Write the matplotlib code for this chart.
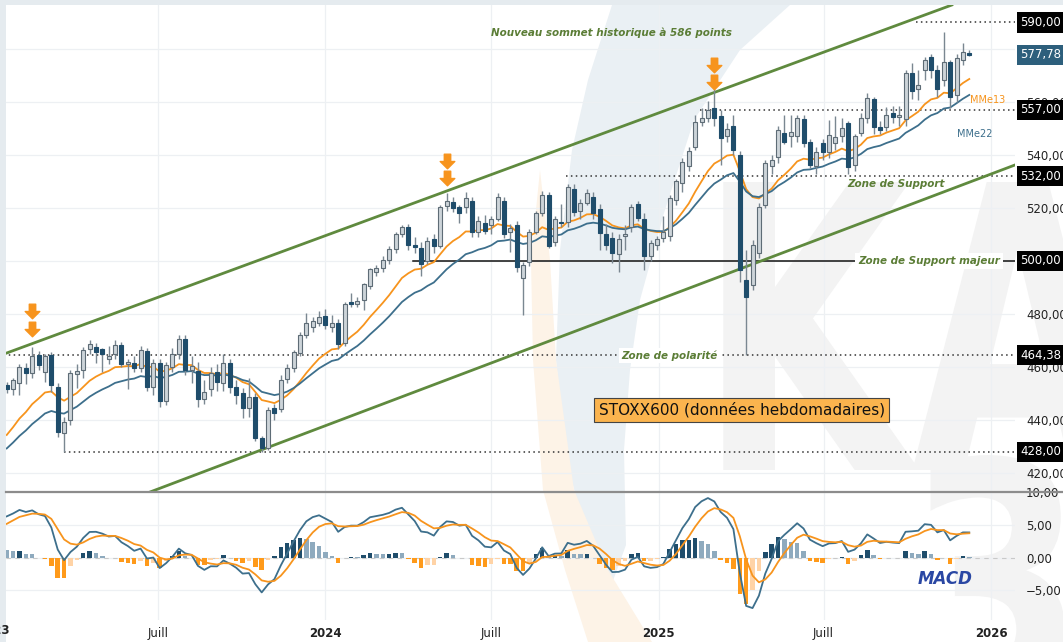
import numpy as np
import pandas as pd
import matplotlib
matplotlib.use("Agg")
import matplotlib.pyplot as plt
import matplotlib.dates as mdates
import matplotlib.transforms as mtransforms
from matplotlib.path import Path
from matplotlib.lines import Line2D
from matplotlib.patches import Rectangle, Polygon, PathPatch
from matplotlib.textpath import TextPath
from matplotlib.font_manager import FontProperties

# ---------------- data (weekly STOXX 600) ----------------
week_start = "2023-01-16"
opens = [453.0, 451.5, 454.0, 459.5, 457.6, 464.5, 458.0, 464.5, 452.5, 435.0,
         440.0, 457.3, 458.8, 466.6, 467.6, 466.6, 462.9, 465.0, 468.3, 461.1,
         461.5, 459.5, 466.0, 452.5, 461.3, 447.0, 460.0, 464.7, 470.4, 459.0,
         458.5, 448.0, 451.5, 458.2, 454.0, 461.3, 452.3, 450.3, 444.4, 448.5,
         433.0, 429.3, 444.4, 444.0, 455.5, 459.5, 465.2, 472.1, 475.2, 476.7,
         479.3, 475.2, 476.7, 469.0, 484.5, 483.6, 485.3, 490.6, 496.0, 497.3,
         500.5, 504.5, 510.0, 513.0, 506.0, 505.0, 500.0, 508.3, 505.6, 520.7,
         522.4, 520.2, 520.2, 522.5, 511.0, 514.4, 513.5, 516.0, 522.8, 511.0,
         513.6, 493.4, 499.5, 511.0, 518.2, 524.9, 507.3, 514.8, 514.8, 527.0,
         519.0, 522.0, 524.0, 519.5, 510.0, 508.8, 502.5, 509.5, 513.0, 521.5,
         516.0, 502.0, 506.0, 508.6, 509.5, 523.0, 529.5, 536.0, 543.1, 552.6,
         553.8, 557.6, 554.7, 547.0, 550.9, 540.0, 493.0, 491.0, 503.0, 521.0,
         535.8, 539.4, 548.2, 547.2, 547.0, 553.5, 545.0, 536.0, 544.7, 541.3,
         544.4, 547.0, 552.0, 536.2, 548.2, 553.8, 561.0, 550.7, 550.7, 556.0,
         554.5, 553.5, 570.8, 564.8, 572.0, 576.9, 572.0, 568.3, 575.2, 562.6,
         576.0, 578.6]
highs = [454.5, 456.0, 461.0, 461.5, 467.6, 466.0, 465.0, 465.5, 454.0, 441.0,
         459.0, 461.0, 467.5, 470.0, 469.0, 467.0, 468.0, 470.2, 469.5, 463.0,
         464.0, 468.0, 467.0, 463.0, 463.0, 462.0, 467.0, 472.0, 472.0, 464.0,
         462.0, 455.0, 460.0, 461.0, 465.0, 463.0, 455.0, 452.0, 456.0, 450.0,
         434.0, 445.0, 446.0, 457.0, 461.0, 466.5, 473.0, 480.3, 479.0, 481.0,
         482.0, 479.5, 478.0, 484.5, 487.8, 486.5, 491.8, 497.5, 498.5, 502.0,
         505.5, 511.0, 513.5, 514.0, 509.0, 507.0, 509.0, 510.0, 521.0, 525.5,
         524.0, 521.0, 526.0, 524.0, 517.0, 517.5, 517.0, 525.5, 524.0, 514.0,
         515.0, 499.5, 512.0, 519.0, 526.5, 526.0, 517.0, 521.5, 529.0, 529.0,
         523.5, 527.0, 526.0, 521.5, 514.0, 511.0, 510.0, 513.6, 521.5, 522.7,
         518.0, 508.0, 509.5, 517.0, 525.0, 531.0, 539.0, 543.0, 555.0, 557.6,
         560.5, 565.3, 557.0, 552.0, 555.0, 541.5, 504.2, 508.0, 522.0, 538.0,
         540.0, 551.0, 555.0, 555.0, 555.0, 555.0, 546.0, 543.0, 546.0, 553.2,
         554.7, 554.0, 553.0, 548.0, 556.0, 563.3, 562.0, 553.0, 558.2, 558.5,
         558.5, 572.0, 574.6, 572.0, 577.0, 578.0, 574.0, 586.5, 576.0, 578.0,
         582.1, 579.5]
lows = [450.0, 449.4, 449.5, 453.5, 456.0, 459.0, 454.5, 450.6, 433.7, 428.0,
        438.0, 452.0, 456.0, 465.0, 461.3, 458.2, 461.0, 463.0, 460.0, 451.5,
        458.0, 458.0, 451.0, 449.4, 444.7, 445.6, 458.0, 463.0, 457.0, 454.0,
        445.0, 446.0, 449.0, 451.0, 451.0, 450.0, 446.0, 440.6, 441.0, 432.0,
        428.0, 428.5, 440.0, 443.0, 454.0, 458.0, 464.0, 471.0, 473.0, 475.5,
        474.5, 473.0, 466.7, 468.0, 482.5, 482.5, 481.5, 489.5, 494.5, 496.0,
        499.0, 503.0, 509.0, 504.0, 503.0, 494.5, 499.0, 503.0, 505.0, 519.0,
        518.6, 514.2, 518.0, 509.0, 509.0, 510.0, 510.0, 515.0, 508.5, 503.5,
        496.0, 479.6, 498.0, 510.0, 517.0, 505.0, 505.5, 513.0, 513.0, 517.0,
        516.0, 521.0, 516.0, 504.2, 504.0, 499.1, 496.0, 504.0, 511.0, 515.0,
        496.6, 500.0, 504.0, 507.0, 507.5, 521.0, 526.0, 534.0, 542.0, 551.0,
        552.5, 551.0, 536.2, 545.0, 540.0, 492.2, 464.4, 489.0, 501.0, 520.0,
        533.0, 537.0, 544.0, 543.0, 545.0, 543.0, 535.0, 533.0, 538.0, 539.0,
        542.0, 545.0, 533.0, 534.0, 547.0, 552.0, 548.0, 548.0, 549.0, 552.0,
        551.0, 551.0, 561.0, 560.8, 568.3, 569.0, 562.0, 566.0, 557.6, 560.0,
        574.0, 577.5]
closes = [451.5, 455.0, 460.0, 457.6, 464.0, 460.7, 464.0, 453.2, 435.6, 439.3,
          457.6, 458.6, 466.4, 468.6, 465.8, 464.9, 464.1, 468.3, 461.1, 462.0,
          459.5, 466.4, 452.5, 461.3, 447.1, 460.7, 465.0, 470.4, 458.8, 460.5,
          448.0, 450.7, 457.6, 454.2, 461.3, 452.5, 449.4, 444.4, 448.5, 433.0,
          429.3, 443.7, 442.7, 455.0, 459.5, 465.8, 472.1, 476.5, 477.4, 479.0,
          475.9, 476.5, 468.7, 483.8, 483.9, 484.7, 491.3, 496.9, 497.2, 500.4,
          504.5, 510.0, 512.8, 506.0, 505.1, 499.0, 507.5, 505.5, 520.5, 522.8,
          520.0, 518.0, 523.8, 511.0, 515.0, 511.4, 516.0, 524.0, 510.0, 512.3,
          497.6, 498.5, 511.0, 518.2, 524.9, 505.8, 515.7, 514.3, 528.0, 518.4,
          522.0, 525.5, 518.2, 510.7, 506.0, 503.0, 508.2, 510.0, 520.3, 516.2,
          502.0, 506.7, 508.2, 511.0, 523.7, 530.0, 537.5, 541.5, 552.6, 553.8,
          557.0, 553.8, 546.3, 549.7, 542.0, 496.6, 486.5, 506.0, 520.5, 537.0,
          538.1, 549.4, 545.0, 548.8, 553.8, 544.7, 536.2, 541.3, 541.0, 547.5,
          546.7, 550.0, 535.6, 547.0, 553.8, 561.4, 550.7, 549.3, 555.1, 554.2,
          555.0, 570.8, 564.3, 566.4, 575.9, 572.1, 565.0, 575.2, 562.0, 576.5,
          579.0, 577.78]
# weekly closes before the visible window (used only to seed the averages / MACD)
warmup_closes = [429, 443, 442, 428, 395, 404, 403, 413, 405, 419, 438, 437, 442,
                 439, 425, 409, 419, 409, 392, 388, 390, 392, 399, 412, 412, 433,
                 434, 441, 443, 437, 428, 429, 425, 444, 453]

ema_fast_span, ema_slow_span = 13, 22
macd_spans = (6, 11, 5)

x_tick_dates = ["2023-07-01", "2024-01-01", "2024-07-01", "2025-01-01", "2025-07-01", "2026-01-01"]
x_tick_labels = ["Juill", "2024", "Juill", "2025", "Juill", "2026"]
price_ticks = [420, 440, 460, 480, 500, 520, 540, 560, 580]
macd_ticks = [-5, 0, 5, 10]

# marked levels: (price, start date, style)
levels = [(590.0, "2025-10-11", "dot"), (557.0, "2025-02-15", "dot"),
          (532.0, "2024-09-21", "dot"), (500.0, "2024-04-06", "solid"),
          (464.38, "2023-01-01", "dot"), (428.0, "2023-03-20", "dot")]
box_levels = [(590.0, "590,00"), (577.78, "577,78"), (557.0, "557,00"), (532.0, "532,00"),
              (500.0, "500,00"), (464.38, "464,38"), (428.0, "428,00")]
# channel anchors (date, price)
upper_channel = [("2023-01-10", 464.5), ("2025-11-22", 597.0)]
lower_channel = [("2023-06-17", 412.1), ("2026-01-27", 536.2)]
# arrows marking touches of the upper channel (week index, price of lower arrow)
arrow_weeks = [4, 69, 111]
arrow_prices = [474.5, 531.3, 567.5]

# ---------------- computations ----------------
dates = pd.date_range(week_start, periods=len(closes), freq="7D")
xd = mdates.date2num(dates.to_pydatetime())
o = np.array(opens); h = np.array(highs); l = np.array(lows); c = np.array(closes)
allc = pd.Series(list(map(float, warmup_closes)) + closes)
nw = len(warmup_closes)
ema13 = allc.ewm(span=ema_fast_span, adjust=False).mean().values[nw:]
ema22 = allc.ewm(span=ema_slow_span, adjust=False).mean().values[nw:]
e_f = allc.ewm(span=macd_spans[0], adjust=False).mean()
e_s = allc.ewm(span=macd_spans[1], adjust=False).mean()
macd_all = e_f - e_s
sig_all = macd_all.ewm(span=macd_spans[2], adjust=False).mean()
hist_all = (macd_all - sig_all).values
macd = macd_all.values[nw:]
sig = sig_all.values[nw:]
hist = hist_all[nw:]
hist_prev = hist_all[nw - 1:-1]

# ---------------- figure ----------------
W, H = 1063, 642
fig = plt.figure(figsize=(W / 100, H / 100), dpi=100, facecolor="white")
fig.patches.append(Rectangle((0, 1 - 5 / H), 1, 5 / H, transform=fig.transFigure,
                             fc="#e5ebef", ec="none", zorder=-5))
fig.patches.append(Rectangle((0, 0), 6 / W, 1, transform=fig.transFigure,
                             fc="#e5ebef", ec="none", zorder=-5))

# background watermark (pixel coordinates, y from top)
def px(points):
    return [(x / W, 1 - y / H) for x, y in points]
blue_swoosh = [(612, 5), (588, 80), (572, 150), (560, 250), (556, 360), (566, 460),
               (588, 540), (606, 600), (626, 545), (624, 450), (630, 370), (640, 300),
               (664, 213), (694, 120), (740, 50), (790, 5)]
orange_swoosh = [(540, 170), (531, 260), (533, 360), (543, 490), (565, 570), (588, 642),
                 (652, 642), (608, 570), (574, 490), (556, 360), (550, 260)]
fig.patches.append(Polygon(px(blue_swoosh), closed=True, transform=fig.transFigure,
                           fc="#eaf0f4", ec="none", zorder=-4))
fig.patches.append(Polygon(px(orange_swoosh), closed=True, transform=fig.transFigure,
                           fc="#fdf3e7", ec="none", zorder=-4))
tp = TextPath((0, 0), "KA", size=1, prop=FontProperties(family="DejaVu Sans", weight="bold"))
fig.add_artist(PathPatch(tp, fc="#f3f3f3", ec="none", zorder=-3,
                         transform=mtransforms.Affine2D().scale(275, 395).translate(698, H - 470)))
tp3 = TextPath((0, 0), "3", size=1, prop=FontProperties(family="DejaVu Sans", weight="bold"))
fig.add_artist(PathPatch(tp3, fc="#f3f3f3", ec="none", zorder=-3,
                         transform=mtransforms.Affine2D().scale(260, 330).translate(905, H - 700)))

L, R = 6, 1015
ax = fig.add_axes([L / W, (H - 492) / H, (R - L) / W, (492 - 5) / H])
ax2 = fig.add_axes([L / W, (H - 620) / H, (R - L) / W, (620 - 492) / H], sharex=ax)
for a in (ax, ax2):
    a.set_facecolor("none")
    for s in a.spines.values():
        s.set_visible(False)

xmin = mdates.date2num(pd.Timestamp("2023-01-15 05:00"))
xmax = mdates.date2num(pd.Timestamp("2026-01-27 05:00"))
ax.set_xlim(xmin, xmax)
ax.set_ylim(412.8, 596.6)
ax2.set_ylim(-9.5, 9.85)

def dnum(s):
    return mdates.date2num(pd.Timestamp(s))

# grid
tick_x = mdates.date2num([pd.Timestamp(d) for d in x_tick_dates])
for a in (ax, ax2):
    for t in tick_x:
        a.axvline(t, color="#edf0f3", lw=0.9, zorder=0.5)
for p in price_ticks:
    ax.axhline(p, color="#edf0f3", lw=0.9, zorder=0.5)
for p in macd_ticks:
    ax2.axhline(p, color="#edf0f3", lw=0.9, zorder=0.5)

# channel
green = "#5f8a3e"
for anchors in (upper_channel, lower_channel):
    (d1, p1), (d2, p2) = anchors
    ax.axline((dnum(d1), p1), (dnum(d2), p2), color=green, lw=2.0, zorder=2)

# levels
for price, start, style in levels:
    x0 = dnum(start)
    if style == "dot":
        ax.plot([x0, xmax], [price, price], color="#333333", lw=1.1, ls=(0, (1, 2.2)), zorder=1.5)
    else:
        ax.plot([x0, xmax], [price, price], color="#111111", lw=1.1, zorder=1.5)

# EMAs
ax.plot(xd, ema13, color="#f7941d", lw=1.3, zorder=3)
ax.plot(xd, ema22, color="#3d6f8c", lw=1.3, zorder=3)

# candles
up = c >= o
body_w = 4.4
ax.vlines(xd, l, h, color="#7a8791", lw=1.0, zorder=4)
bot = np.minimum(o, c)
hgt = np.maximum(np.abs(c - o), 0.35)
ax.bar(xd[up], hgt[up], bottom=bot[up], width=body_w, color="#cdd4d9", edgecolor="#5e6c76",
       linewidth=0.8, zorder=5)
ax.bar(xd[~up], hgt[~up], bottom=bot[~up], width=body_w, color="#1f4d6b", edgecolor="#1f4d6b",
       linewidth=0.8, zorder=5)

# arrows
arrow_path = Path([(-0.22, 0.5), (0.22, 0.5), (0.22, 0.0), (0.5, 0.0), (0.0, -0.5),
                   (-0.5, 0.0), (-0.22, 0.0), (-0.22, 0.5)],
                  [Path.MOVETO] + [Path.LINETO] * 6 + [Path.CLOSEPOLY])
ax_arrow_x = xd[arrow_weeks]
ax.plot(ax_arrow_x, arrow_prices, marker=arrow_path, markersize=10.5, color="#f7941d",
        ls="none", zorder=7)
ax.plot(ax_arrow_x, np.array(arrow_prices) + 6.6, marker=arrow_path, markersize=10.5,
        color="#f7941d", ls="none", zorder=7)

# annotations
ann = dict(color="#5b7d36", style="italic", fontweight="bold", fontsize=7.5, zorder=8)
ax.text(dnum("2024-11-10"), 586.0, "Nouveau sommet historique à 586 points", ha="center", va="center", **ann)
ax.text(dnum("2025-09-19"), 529.0, "Zone de Support", ha="center", va="center", **ann)
ax.text(dnum("2025-10-25"), 500.0, "Zone de Support majeur", ha="center", va="center",
        bbox=dict(boxstyle="square,pad=0.3", fc="white", ec="none"), **ann)
ax.text(dnum("2025-01-13"), 464.3, "Zone de polarité", ha="center", va="center",
        bbox=dict(boxstyle="square,pad=0.2", fc="white", ec="none"), **ann)
ax.text(dnum("2025-12-09"), 560.8, "MMe13", color="#f7941d", fontsize=7, ha="left", va="center", zorder=8)
ax.text(dnum("2025-11-25"), 548.0, "MMe22", color="#3d6f8c", fontsize=7, ha="left", va="center", zorder=8)
ax.text(dnum("2025-04-02"), 443.8, "STOXX600 (données hebdomadaires)", ha="center", va="center",
        fontsize=11, color="#111111", zorder=8,
        bbox=dict(boxstyle="square,pad=0.3", fc="#fbb44e", ec="#444444", lw=0.8))

# MACD panel
pos = hist >= 0
hcol = np.where(pos, np.where(hist >= hist_prev, "#1f4d6b", "#8eaabe"),
                np.where(hist < hist_prev, "#ff9a1a", "#ffd3a6"))
ax2.bar(xd, hist, width=5.0, color=hcol, zorder=2)
ax2.axhline(0, color="#c9c9c9", lw=0.8, ls=(0, (4, 4)), zorder=1)
ax2.plot(xd, macd, color="#3d6f8c", lw=1.3, zorder=3)
ax2.plot(xd, sig, color="#f7941d", lw=1.3, zorder=3)
ax2.text(dnum("2025-10-12"), -3.3, "MACD", color="#2a47a3", fontsize=12, style="italic",
         fontweight="bold", ha="left", va="center", zorder=8)

# separator
fig.add_artist(Line2D([L / W, 1], [(H - 492) / H] * 2, color="#8c8c8c", lw=1.6))

# axes ticks
fmt = lambda v: (f"{v:.2f}".replace(".", ",").replace("-", "\u2212"))
ax.yaxis.tick_right()
ax.set_yticks(price_ticks)
ax.set_yticklabels([fmt(v) for v in price_ticks])
ax.tick_params(axis="y", length=0, pad=8, labelsize=8.5, labelcolor="#222222")
ax.tick_params(axis="x", length=0, labelbottom=False)
ax2.yaxis.tick_right()
ax2.set_yticks(macd_ticks)
ax2.set_yticklabels([fmt(v) for v in macd_ticks])
ax2.tick_params(axis="y", length=0, pad=8, labelsize=8.5, labelcolor="#222222")
ax2.set_xticks(tick_x)
ax2.set_xticklabels(x_tick_labels)
ax2.tick_params(axis="x", length=0, pad=5, labelsize=8.5, labelcolor="#222222")
for lab in ax2.get_xticklabels():
    if lab.get_text().isdigit():
        lab.set_fontweight("bold")
tr = mtransforms.blended_transform_factory(ax2.transData, ax2.transAxes)
ax2.text(dnum("2023-01-01"), -0.085, "2023", transform=tr, ha="center", va="center",
         fontsize=8.5, fontweight="bold", color="#222222", clip_on=False)

# boxed price labels
for price, txt in box_levels:
    fc = "#2d5f7c" if txt == "577,78" else "#000000"
    ax.text(1.0055, price, txt, transform=ax.get_yaxis_transform(), ha="left", va="center",
            color="white", fontsize=8.5, zorder=20, clip_on=False,
            bbox=dict(boxstyle="square,pad=0.3", fc=fc, ec="none"))

fig.savefig("out.png", dpi=100, facecolor=fig.get_facecolor())
